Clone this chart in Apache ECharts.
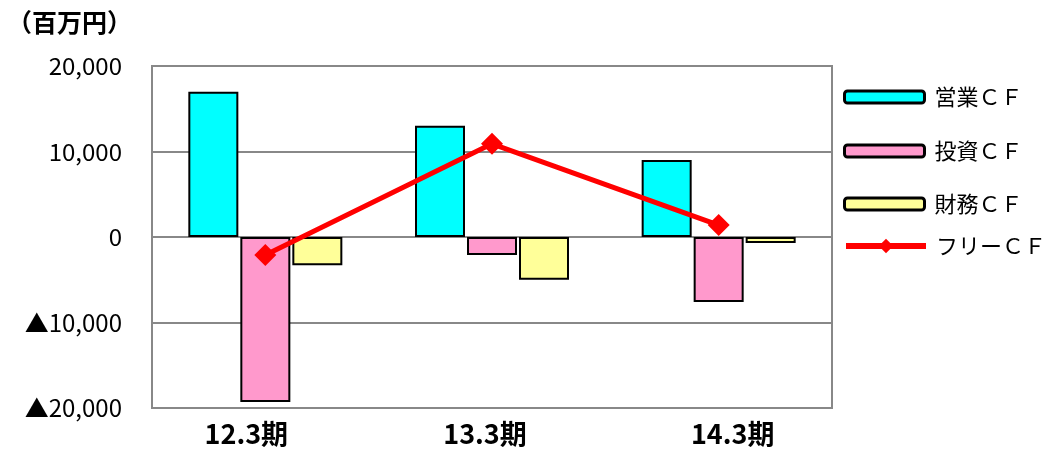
<!DOCTYPE html>
<html><head><meta charset="utf-8">
<script src="https://cdn.jsdelivr.net/npm/echarts@6/dist/echarts.min.js"></script>
<style>html,body{margin:0;padding:0;background:#fff}#c{width:1045px;height:452px}</style>
</head><body><div id="c"></div>
<script>
const categories = ['12.3期', '13.3期', '14.3期'];
const operatingCF = [17000, 13000, 9000];
const investingCF = [-19300, -2100, -7600];
const financingCF = [-3300, -5000, -700];
const freeCF = [-2100, 10900, 1400];
const seriesNames = ['営業ＣＦ', '投資ＣＦ', '財務ＣＦ', 'フリーＣＦ'];
const unitLabel = '（百万円）';

const FONT = '"Noto Sans CJK JP", sans-serif';
const chart = echarts.init(document.getElementById('c'));
function fmt(v){
  const a = Math.abs(v).toString().replace(/\B(?=(\d{3})+(?!\d))/g, ',');
  return v < 0 ? '▲' + a : a;
}
const legendTops = [81, 135, 188, 230];
const labelStyles = ['l', 'm', 'r'];
chart.setOption({
  animation: false,
  title: { text: unitLabel, left: 2, top: 5, textStyle: { fontFamily: FONT, fontSize: 25, fontWeight: 'bold', color: '#000' } },
  legend: seriesNames.map((n, i) => ({
    data: [n], orient: 'vertical', left: 838, top: legendTops[i],
    itemWidth: 80, itemHeight: i === 3 ? 18 : 12,
    itemStyle: i === 3 ? {} : { borderColor: '#000', borderWidth: 3 },
    lineStyle: i === 3 ? { width: 6, color: '#ff0000' } : {},
    textStyle: { fontFamily: FONT, fontSize: 22, color: '#000', padding: [4, 0, 0, 5] }
  })),
  grid: { left: 152, right: 213, top: 66, bottom: 44, show: true, borderColor: '#888', borderWidth: 2 },
  xAxis: {
    type: 'category', data: categories,
    axisLine: { show: true, onZero: false, lineStyle: { color: '#888', width: 2 } },
    axisTick: { show: false },
    axisLabel: {
      margin: 12,
      formatter: (v, i) => '{' + labelStyles[i] + '|' + v + '}',
      rich: {
        l: { fontFamily: FONT, fontSize: 27, fontWeight: 'bold', color: '#000', padding: [0, 38, 0, 0] },
        m: { fontFamily: FONT, fontSize: 27, fontWeight: 'bold', color: '#000', padding: [0, 14, 0, 0] },
        r: { fontFamily: FONT, fontSize: 27, fontWeight: 'bold', color: '#000', padding: [0, 0, 0, 28] }
      }
    }
  },
  yAxis: {
    type: 'value', min: -20000, max: 20000, interval: 10000,
    axisLine: { show: true, lineStyle: { color: '#888', width: 2 } },
    axisTick: { show: false },
    splitLine: { lineStyle: { color: '#888', width: 2 } },
    axisLabel: { formatter: fmt, fontFamily: FONT, fontSize: 24, color: '#000', margin: 30 }
  },
  series: [
    { name: seriesNames[0], type: 'bar', data: operatingCF, barWidth: 50, barGap: '4%',
      itemStyle: { color: '#00ffff', borderColor: '#000', borderWidth: 2 } },
    { name: seriesNames[1], type: 'bar', data: investingCF, barWidth: 50, barGap: '4%',
      itemStyle: { color: '#ff99cc', borderColor: '#000', borderWidth: 2 } },
    { name: seriesNames[2], type: 'bar', data: financingCF, barWidth: 50, barGap: '4%',
      itemStyle: { color: '#ffff99', borderColor: '#000', borderWidth: 2 } },
    { name: seriesNames[3], type: 'line', data: freeCF, z: 5,
      symbol: 'diamond', symbolSize: 22,
      lineStyle: { color: '#ff0000', width: 5 },
      itemStyle: { color: '#ff0000' } }
  ]
});
</script></body></html>
